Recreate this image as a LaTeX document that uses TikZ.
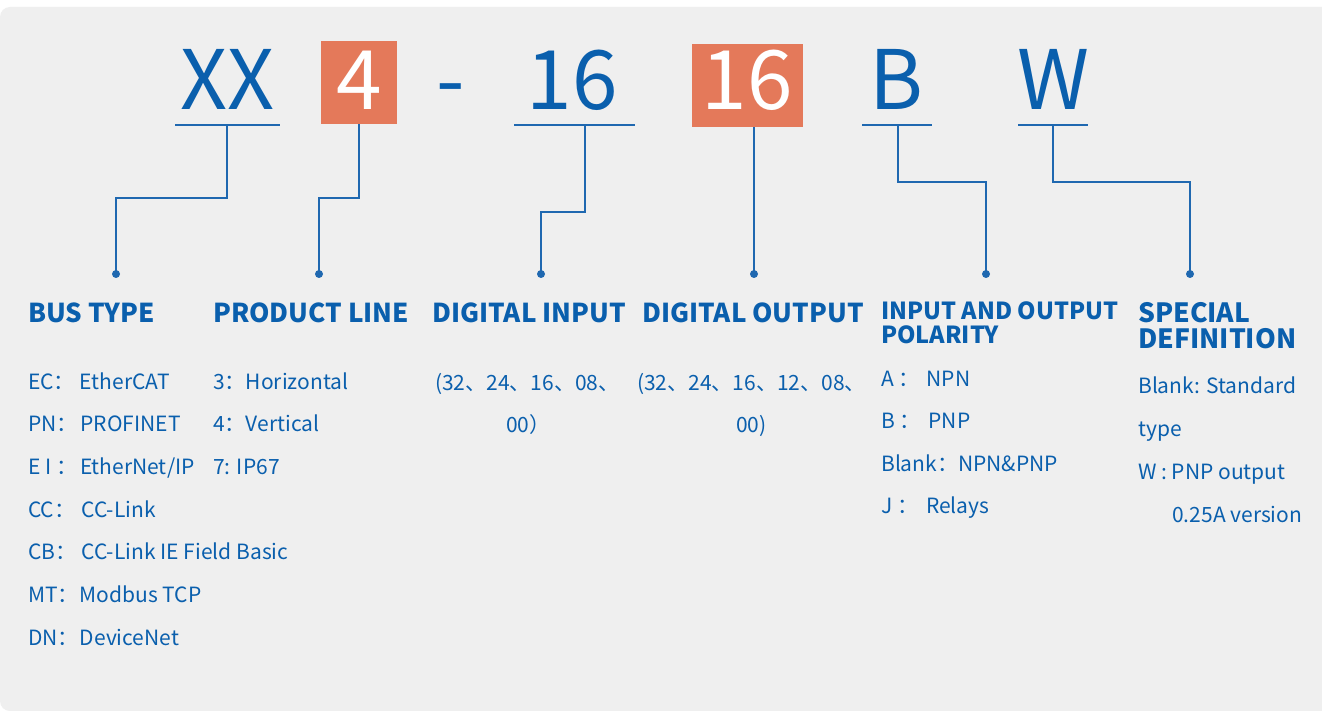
\documentclass[tikz,border=0pt]{standalone}
\usepackage{fontspec}
\newfontfamily\cjk{Noto Sans CJK SC}
\definecolor{blu}{HTML}{0A5FAD}
\definecolor{lnc}{HTML}{1F68B0}
\definecolor{org}{HTML}{E4795A}
\definecolor{bg}{HTML}{EFEFEF}
\tikzset{
  big/.style={font=\cjk\fontsize{82}{82}\selectfont, text=blu, inner sep=0, anchor=base},
  bigw/.style={font=\cjk\fontsize{82}{82}\selectfont, text=white, inner sep=0, anchor=base},
  obox/.style={fill=org, inner sep=0, draw=none},
  uline/.style={draw=lnc, line width=2.2pt},
  conn/.style={draw=lnc, line width=1.6pt},
  dot/.style={circle, fill=lnc, inner sep=0, minimum size=8pt},
  head/.style={font=\cjk\bfseries\fontsize{26}{26}\selectfont, text=blu, inner sep=0, anchor=base west},
  headb/.style={font=\cjk\bfseries\fontsize{23.5}{24}\selectfont, text=blu, inner sep=0, anchor=base west, align=left},
  headc/.style={font=\cjk\bfseries\fontsize{26.5}{26}\selectfont, text=blu, inner sep=0, anchor=base west, align=left},
  body/.style={font=\cjk\fontsize{21}{21}\selectfont, text=blu, inner sep=0, anchor=base west},
}
\begin{document}
\begin{tikzpicture}[x=1pt,y=-1pt]
\useasboundingbox (0,0) rectangle (1322,711);
\fill[white] (0,0) rectangle (1322,711);
\fill[bg, rounded corners=10pt] (0,7) rectangle (1340,711);

% top code letters
\node[big] (xx) at (227,110) {XX};
\node[obox, minimum width=76pt, minimum height=83pt] (b4) at (359,82.5) {};
\node[bigw] (t4) at (359,110) {4};
\node[big] (dash) at (451,110) {-};
\node[big] (s16) at (572,110) {16};
\node[obox, minimum width=111pt, minimum height=83pt] (b16) at (747.5,85.5) {};
\node[bigw] (t16) at (747.5,110) {16};
\node[big] (lb) at (896,110) {B};
\node[big] (lw) at (1053,110) {W};

% underlines
\coordinate (u1a) at (175,125); \coordinate (u1b) at (280,125); \coordinate (u1) at (227,125);
\coordinate (u3a) at (514,125); \coordinate (u3b) at (635,125); \coordinate (u3) at (585,125);
\coordinate (u5a) at (862,125); \coordinate (u5b) at (932,125); \coordinate (u5) at (898,125);
\coordinate (u6a) at (1018,125); \coordinate (u6b) at (1088,125); \coordinate (u6) at (1053,125);
\draw[uline] (u1a) -- (u1b);
\draw[uline] (u3a) -- (u3b);
\draw[uline] (u5a) -- (u5b);
\draw[uline] (u6a) -- (u6b);

% dots
\node[dot] (d1) at (116,274) {};
\node[dot] (d2) at (319,274) {};
\node[dot] (d3) at (541,274) {};
\node[dot] (d4) at (754,274) {};
\node[dot] (d5) at (986,274) {};
\node[dot] (d6) at (1190,274) {};

% connectors
\draw[conn] (u1) -- (227,198) -| (d1.center);
\draw[conn] (b4.south -| 359,0) -- (359,198) -| (d2.center);
\draw[conn] (u3) -- (585,212) -| (d3.center);
\draw[conn] (b16.south -| 754,0) -- (d4.center);
\draw[conn] (u5) -- (898,182) -| (d5.center);
\draw[conn] (u6) -- (1053,182) -| (d6.center);

% headings
\node[head] (h1) at (28,323) {BUS TYPE};
\node[head] (h2) at (213,323) {PRODUCT LINE};
\node[head] (h3) at (432,322) {DIGITAL INPUT};
\node[head] (h4) at (642,322) {DIGITAL OUTPUT};
\node[headb] (h5) at (881,319) {INPUT AND OUTPUT};
\node[headb] (h5b) at (881,343) {POLARITY};
\node[headc] (h6) at (1138,322) {SPECIAL};
\node[headc] (h6b) at (1138,348) {DEFINITION};

% bus type
\node[body] (e1) at (28,389) {EC：\hspace{5pt}EtherCAT};
\node[body] (e2) at (28,431) {PN：\hspace{3pt}PROFINET};
\node[body] (e3) at (28,474) {E I ：\hspace{3pt}EtherNet/IP};
\node[body] (e4) at (28,517) {CC：\hspace{6pt}CC-Link};
\node[body] (e5) at (28,559) {CB：\hspace{5pt}CC-Link IE Field Basic};
\node[body] (e6) at (28,602) {MT：\hspace{1pt}Modbus TCP};
\node[body] (e7) at (28,645) {DN：\hspace{1pt}DeviceNet};

% product line
\node[body] (p1) at (213,389) {3：Horizontal};
\node[body] (p2) at (213,431) {4：Vertical};
\node[body] (p3) at (213,474) {7: IP67};

% digital input / output
\node[body] (i1) at (435,390) {(32、24、16、08、};
\node[body] (i2) at (506,432) {00）};
\node[body] (o1) at (637,390) {(32、24、16、12、08、};
\node[body] (o2) at (736,432) {00)};

% polarity
\node[body] (q1) at (881,386) {A ：\hspace{7pt}NPN};
\node[body] (q2) at (881,428) {B ：\hspace{8pt}PNP};
\node[body] (q3) at (881,471) {Blank：NPN\&PNP};
\node[body] (q4) at (881,513) {J ：\hspace{8pt}Relays};

% special
\node[body] (s1) at (1138,393) {Blank: Standard};
\node[body] (s2) at (1138,436) {type};
\node[body] (s3) at (1138,479) {W : PNP output};
\node[body] (s4) at (1172,522) {0.25A version};
\end{tikzpicture}
\end{document}
